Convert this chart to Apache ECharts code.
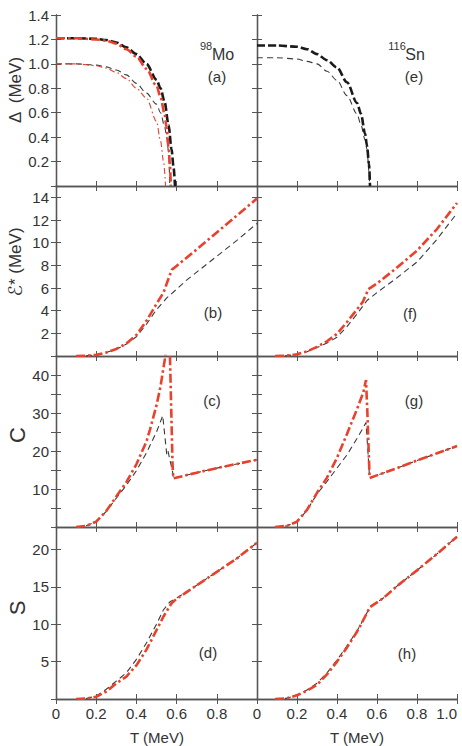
<!DOCTYPE html>
<html>
<head>
<meta charset="utf-8">
<script src="https://cdn.jsdelivr.net/npm/echarts@6/dist/echarts.min.js"></script>
<style>
html,body{margin:0;padding:0;background:#fff;}
#chart{width:462px;height:746px;}
</style>
</head>
<body>
<div id="chart"></div>
<script>
// ---------- tick labels ----------
const xTickLabelsLeft = ['0', '0.2', '0.4', '0.6', '0.8'];
const xTickLabelsRight = ['0', '0.2', '0.4', '0.6', '0.8', '1.0'];
const yTickLabelsGap = ['0.2', '0.4', '0.6', '0.8', '1.0', '1.2', '1.4'];
const yTickLabelsE = ['2', '4', '6', '8', '10', '12', '14'];
const yTickLabelsC = ['10', '20', '30', '40'];
const yTickLabelsS = ['5', '10', '15', '20'];

// ---------- (a) 98Mo pairing gap ----------
const a_T_blackThick = [0, 0.1, 0.2, 0.25, 0.3, 0.35, 0.4, 0.45, 0.5, 0.52, 0.54, 0.56, 0.575, 0.585, 0.592];
const a_V_blackThick = [1.21, 1.21, 1.205, 1.195, 1.175, 1.135, 1.08, 1.0, 0.87, 0.8, 0.69, 0.5, 0.3, 0.15, 0];
const a_T_redThick = [0, 0.1, 0.2, 0.25, 0.3, 0.35, 0.4, 0.45, 0.5, 0.52, 0.54, 0.55, 0.56, 0.567, 0.571];
const a_V_redThick = [1.21, 1.21, 1.2, 1.19, 1.165, 1.12, 1.06, 0.96, 0.82, 0.73, 0.59, 0.48, 0.32, 0.17, 0];
const a_T_blackThin = [0, 0.1, 0.2, 0.25, 0.3, 0.35, 0.4, 0.45, 0.5, 0.52, 0.54, 0.55, 0.56, 0.566];
const a_V_blackThin = [1.0, 1.0, 0.99, 0.975, 0.95, 0.91, 0.84, 0.76, 0.67, 0.6, 0.49, 0.41, 0.28, 0];
const a_T_redThin = [0, 0.1, 0.2, 0.25, 0.3, 0.35, 0.4, 0.45, 0.5, 0.52, 0.535, 0.545];
const a_V_redThin = [1.0, 1.0, 0.985, 0.965, 0.93, 0.88, 0.8, 0.72, 0.53, 0.37, 0.2, 0];

// ---------- (e) 116Sn pairing gap ----------
const e_T_blackThick = [0, 0.1, 0.2, 0.25, 0.3, 0.35, 0.4, 0.45, 0.5, 0.52, 0.54, 0.55, 0.56, 0.565];
const e_V_blackThick = [1.15, 1.15, 1.14, 1.12, 1.08, 1.03, 0.97, 0.85, 0.68, 0.59, 0.43, 0.33, 0.18, 0];
const e_T_blackThin = [0, 0.1, 0.2, 0.25, 0.3, 0.35, 0.4, 0.45, 0.5, 0.52, 0.54, 0.55, 0.56, 0.563];
const e_V_blackThin = [1.05, 1.05, 1.04, 1.02, 1.0, 0.94, 0.865, 0.74, 0.59, 0.5, 0.38, 0.3, 0.12, 0];

// ---------- (b) 98Mo excitation energy ----------
const b_T_black = [0.1, 0.15, 0.2, 0.25, 0.3, 0.35, 0.4, 0.45, 0.5, 0.55, 0.6, 0.65, 0.7, 0.8, 0.9, 1.0];
const b_V_black = [0, 0.02, 0.1, 0.3, 0.6, 1.05, 1.7, 2.8, 4.1, 5.1, 5.9, 6.7, 7.4, 8.8, 10.2, 11.7];
const b_T_red = [0.1, 0.15, 0.2, 0.25, 0.3, 0.35, 0.4, 0.45, 0.5, 0.535, 0.555, 0.576, 0.6, 0.7, 0.8, 0.9, 1.0];
const b_V_red = [0, 0.02, 0.1, 0.3, 0.62, 1.1, 1.85, 3.1, 4.6, 5.6, 6.6, 7.6, 7.95, 9.4, 10.9, 12.4, 13.9];

// ---------- (f) 116Sn excitation energy ----------
const f_T_black = [0.09, 0.15, 0.2, 0.25, 0.3, 0.35, 0.4, 0.45, 0.5, 0.55, 0.6, 0.7, 0.8, 0.9, 1.0];
const f_V_black = [0, 0.03, 0.14, 0.38, 0.75, 1.15, 1.65, 2.6, 3.7, 4.9, 5.6, 6.9, 8.3, 10.3, 12.6];
const f_T_red = [0.09, 0.15, 0.2, 0.25, 0.3, 0.35, 0.4, 0.45, 0.5, 0.53, 0.557, 0.6, 0.7, 0.8, 0.9, 1.0];
const f_V_red = [0, 0.03, 0.15, 0.4, 0.8, 1.3, 1.95, 3.0, 4.1, 4.8, 5.9, 6.4, 7.8, 9.3, 11.2, 13.5];

// ---------- (c) 98Mo heat capacity ----------
const c_T_black = [0.1, 0.15, 0.2, 0.25, 0.3, 0.35, 0.4, 0.45, 0.5, 0.531, 0.551, 0.557, 0.58, 0.584, 0.7, 0.8, 0.9, 1.0];
const c_V_black = [0, 0.3, 1.4, 4.1, 7.6, 11.0, 14.8, 19.5, 25.0, 29.3, 19.1, 20.0, 14.5, 12.8, 14.3, 15.5, 16.6, 17.7];
const c_T_red = [0.1, 0.15, 0.2, 0.25, 0.3, 0.35, 0.4, 0.45, 0.468, 0.5, 0.52, 0.542, 0.55, 0.567, 0.58, 0.584, 0.7, 0.8, 0.9, 1.0];
const c_V_red = [0, 0.3, 1.4, 4.2, 8.0, 11.8, 16.5, 22.5, 25.7, 32.0, 37.0, 44.3, 48.0, 45.0, 16.0, 12.8, 14.3, 15.5, 16.6, 17.7];

// ---------- (g) 116Sn heat capacity ----------
const g_T_black = [0.09, 0.15, 0.2, 0.25, 0.3, 0.35, 0.4, 0.45, 0.5, 0.532, 0.545, 0.552, 0.563, 0.7, 0.8, 0.9, 1.0];
const g_V_black = [0, 0.3, 1.4, 4.4, 8.7, 12.0, 15.5, 19.0, 23.3, 26.2, 27.5, 22.0, 12.9, 15.5, 17.5, 19.4, 21.3];
const g_T_red = [0.09, 0.15, 0.2, 0.25, 0.3, 0.35, 0.4, 0.45, 0.5, 0.532, 0.545, 0.552, 0.563, 0.7, 0.8, 0.9, 1.0];
const g_V_red = [0, 0.3, 1.4, 4.5, 9.0, 13.0, 18.2, 24.5, 31.0, 35.5, 38.7, 30.0, 12.9, 15.5, 17.5, 19.4, 21.3];

// ---------- (d) 98Mo entropy ----------
const d_T_black = [0.1, 0.15, 0.2, 0.25, 0.3, 0.35, 0.4, 0.45, 0.5, 0.534, 0.567, 0.6, 0.7, 0.8, 0.9, 1.0];
const d_V_black = [0, 0.06, 0.4, 1.3, 2.4, 3.5, 5.3, 7.5, 10.0, 11.9, 13.0, 13.5, 15.2, 17.0, 18.8, 20.9];
const d_T_red = [0.1, 0.15, 0.2, 0.25, 0.3, 0.35, 0.4, 0.45, 0.5, 0.534, 0.575, 0.6, 0.7, 0.8, 0.9, 1.0];
const d_V_red = [0, 0.05, 0.3, 1.0, 2.1, 3.0, 4.5, 6.6, 9.2, 11.0, 12.8, 13.4, 15.2, 17.0, 18.8, 20.9];

// ---------- (h) 116Sn entropy ----------
const h_T_black = [0.09, 0.15, 0.2, 0.25, 0.3, 0.35, 0.4, 0.45, 0.5, 0.515, 0.565, 0.632, 0.7, 0.8, 0.9, 1.0];
const h_V_black = [0, 0.1, 0.55, 1.2, 2.1, 3.5, 5.2, 7.1, 9.1, 9.8, 12.3, 13.5, 15.1, 17.2, 19.4, 21.7];
const h_T_red = [0.09, 0.15, 0.2, 0.25, 0.3, 0.35, 0.4, 0.45, 0.5, 0.515, 0.565, 0.632, 0.7, 0.8, 0.9, 1.0];
const h_V_red = [0, 0.1, 0.5, 1.1, 1.9, 3.3, 5.0, 6.9, 9.0, 9.7, 12.3, 13.5, 15.1, 17.2, 19.4, 21.7];

// ---------- build ----------
const zip = (T, V) => T.map((t, i) => [t, V[i]]);
const RED = '#e8412c';
const FRAME = '#555555';
const TXT = '#333333';
const FONT = 'Liberation Sans, Arial, Helvetica, sans-serif';

const styles = {
  blackThick: { color: '#1a1a1a', width: 2.6, type: [8, 3] },
  blackThin: { color: '#3a3a3a', width: 1.1, type: [6, 4] },
  redThick: { color: RED, width: 2.6, type: [9, 3, 2.5, 3] },
  redThin: { color: RED, width: 1.1, type: [6, 3, 1.5, 3] }
};

const colLeft = [56, 257];
const colWidth = [201, 200];
const rowTop = [15, 186, 356, 527];
const rowHeight = [171, 170, 171, 172];

const rows = [
  { max: 1.4, interval: 0.2, labels: yTickLabelsGap,
    series: [
      [ [a_T_blackThin, a_V_blackThin, 'blackThin'], [a_T_redThin, a_V_redThin, 'redThin'],
        [a_T_blackThick, a_V_blackThick, 'blackThick'], [a_T_redThick, a_V_redThick, 'redThick'] ],
      [ [e_T_blackThin, e_V_blackThin, 'blackThin'], [e_T_blackThick, e_V_blackThick, 'blackThick'] ]
    ], smooth: true },
  { max: 15, interval: 2, labels: yTickLabelsE,
    series: [
      [ [b_T_black, b_V_black, 'blackThin'], [b_T_red, b_V_red, 'redThick'] ],
      [ [f_T_black, f_V_black, 'blackThin'], [f_T_red, f_V_red, 'redThick'] ]
    ], smooth: false },
  { max: 45, interval: 5, labels: yTickLabelsC,
    series: [
      [ [c_T_black, c_V_black, 'blackThin'], [c_T_red, c_V_red, 'redThick'] ],
      [ [g_T_black, g_V_black, 'blackThin'], [g_T_red, g_V_red, 'redThick'] ]
    ], smooth: false },
  { max: 23, interval: 5, labels: yTickLabelsS,
    series: [
      [ [d_T_black, d_V_black, 'blackThin'], [d_T_red, d_V_red, 'redThick'] ],
      [ [h_T_black, h_V_black, 'blackThin'], [h_T_red, h_V_red, 'redThick'] ]
    ], smooth: false }
];

const labelFrom = (list) => (v) => {
  for (const s of list) { if (Math.abs(parseFloat(s) - v) < 1e-6) return s; }
  return '';
};

const grid = [], xAxis = [], yAxis = [], series = [];
const tick = { show: true, inside: true, length: 5, lineStyle: { color: FRAME, width: 1 } };
const axisLine = { show: true, lineStyle: { color: FRAME, width: 1.3 } };

let gi = 0;
rows.forEach((row, r) => {
  for (let c = 0; c < 2; c++) {
    grid.push({ left: colLeft[c], top: rowTop[r], width: colWidth[c], height: rowHeight[r],
      containLabel: false, outerBoundsMode: 'none', show: false });
    const isBottom = r === 3;
    xAxis.push({ type: 'value', gridIndex: gi, position: 'bottom', min: 0, max: 1, interval: 0.2,
      axisLine, axisTick: tick, splitLine: { show: false },
      axisLabel: { show: isBottom, formatter: labelFrom(c === 0 ? xTickLabelsLeft : xTickLabelsRight),
        showMinLabel: true, showMaxLabel: true, hideOverlap: false,
        alignMaxLabel: c === 1 ? 'right' : null,
        color: TXT, fontSize: 15, fontFamily: FONT, margin: 7 } });
    xAxis.push({ type: 'value', gridIndex: gi, position: 'top', min: 0, max: 1, interval: 0.2,
      axisLine, axisTick: tick, splitLine: { show: false }, axisLabel: { show: false } });
    yAxis.push({ type: 'value', gridIndex: gi, position: 'left', min: 0, max: row.max, interval: row.interval,
      axisLine, axisTick: tick, splitLine: { show: false },
      axisLabel: { show: c === 0, formatter: labelFrom(row.labels), showMinLabel: true, showMaxLabel: true,
        hideOverlap: false, color: TXT, fontSize: 15, fontFamily: FONT, margin: 7 } });
    yAxis.push({ type: 'value', gridIndex: gi, position: 'right', min: 0, max: row.max, interval: row.interval,
      axisLine, axisTick: tick, splitLine: { show: false }, axisLabel: { show: false } });
    row.series[c].forEach(([T, V, st]) => {
      series.push({ type: 'line', xAxisIndex: 2 * gi, yAxisIndex: 2 * gi, data: zip(T, V),
        symbol: 'none', showSymbol: false, clip: true, silent: true,
        smooth: row.smooth ? 0.3 : false, smoothMonotone: 'x',
        lineStyle: styles[st] });
    });
    gi++;
  }
});

const txt = (x, y, text, size, extra) => Object.assign({ type: 'text', x, y, silent: true,
  style: { text, fill: TXT, fontSize: size, fontFamily: FONT, align: 'center', verticalAlign: 'middle' } }, extra || {});

const graphic = [
  // y-axis titles
  txt(15, 90, 'Δ  (MeV)', 17, { rotation: Math.PI / 2 }),
  { type: 'text', x: 15, y: 262, rotation: Math.PI / 2, silent: true,
    style: { text: '{e|ℰ}{n|* (MeV)}', align: 'center', verticalAlign: 'middle', fill: TXT,
      rich: { e: { fontSize: 19, fontFamily: 'DejaVu Sans, sans-serif', fill: TXT },
              n: { fontSize: 17, fontFamily: FONT, fill: TXT } } } },
  txt(17, 435, 'C', 22, { rotation: Math.PI / 2 }),
  txt(17, 608, 'S', 22, { rotation: Math.PI / 2 }),
  // x-axis titles
  txt(157, 737, 'T (MeV)', 15),
  txt(357, 737, 'T (MeV)', 15),
  // nucleus labels
  txt(206, 46, '98', 11),
  txt(223, 54, 'Mo', 16),
  txt(397, 46, '116', 11),
  txt(415, 54, 'Sn', 16),
  // panel labels
  txt(217, 76, '(a)', 15),
  txt(414, 76, '(e)', 15),
  txt(213, 312, '(b)', 15),
  txt(410, 313, '(f)', 15),
  txt(212, 400, '(c)', 15),
  txt(414, 400, '(g)', 15),
  txt(208, 652, '(d)', 15),
  txt(407, 653, '(h)', 15)
];

const chart = echarts.init(document.getElementById('chart'), null, { renderer: 'svg' });
chart.setOption({ animation: false, backgroundColor: '#fff', grid, xAxis, yAxis, series, graphic });
</script>
</body>
</html>
